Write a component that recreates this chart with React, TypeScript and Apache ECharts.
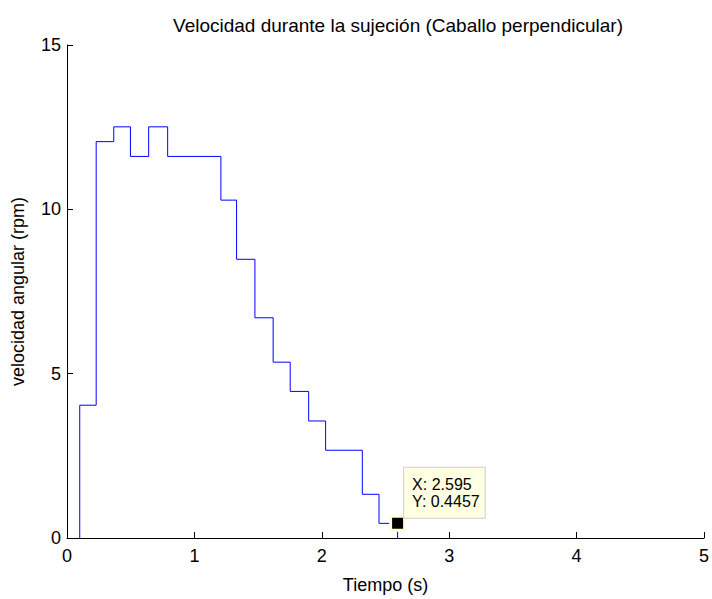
import React, { useEffect, useRef } from "react";
import * as echarts from "echarts";

// step data: [time change (s), new value (rpm)]
const stepTimes = [0.1, 0.1, 0.229, 0.367, 0.498, 0.641, 0.79, 1.208, 1.331, 1.475, 1.618, 1.752, 1.897, 2.03, 2.318, 2.449, 2.595];
const stepValues = [0, 4.04, 12.06, 12.51, 11.61, 12.51, 11.61, 10.28, 8.48, 6.7, 5.35, 4.46, 3.56, 2.67, 1.33, 0.4457, 0];
const cursorPoint = [2.595, 0.4457];
const xTicks = [0, 1, 2, 3, 4, 5];
const yTicks = [0, 5, 10, 15];

const FONT = "Liberation Sans, Arial, sans-serif";

export default function App() {
  const ref = useRef<HTMLDivElement>(null);
  useEffect(() => {
    if (!ref.current) return;
    const chart = echarts.init(ref.current, null, { renderer: "svg" });
    const lineData = stepTimes.map((t, i) => [t, stepValues[i]]);
    chart.setOption({
      animation: false,
      backgroundColor: "#ffffff",
      title: {
        text: "Velocidad durante la sujeción (Caballo perpendicular)",
        left: 393,
        textAlign: "center",
        top: 11,
        textStyle: { fontFamily: FONT, fontSize: 19, fontWeight: "normal", color: "#000" },
      },
      grid: { left: 67, right: 7, top: 45, bottom: 53, containLabel: false },
      xAxis: {
        type: "value",
        min: xTicks[0],
        max: xTicks[xTicks.length - 1],
        interval: 1,
        name: "Tiempo (s)",
        nameLocation: "middle",
        nameGap: 38,
        nameTextStyle: { fontFamily: FONT, fontSize: 18, color: "#000" },
        axisLine: { lineStyle: { color: "#000", width: 1 } },
        axisTick: { inside: true, length: 6, lineStyle: { color: "#000" } },
        axisLabel: { fontFamily: FONT, fontSize: 18, color: "#000", margin: 9 },
        splitLine: { show: false },
      },
      yAxis: {
        type: "value",
        min: yTicks[0],
        max: yTicks[yTicks.length - 1],
        interval: 5,
        name: "velocidad angular (rpm)",
        nameLocation: "middle",
        nameGap: 40,
        nameTextStyle: { fontFamily: FONT, fontSize: 18, color: "#000" },
        axisLine: { show: true, lineStyle: { color: "#000", width: 1 } },
        axisTick: { show: true, inside: true, length: 6, lineStyle: { color: "#000" } },
        axisLabel: { fontFamily: FONT, fontSize: 18, color: "#000", margin: 6 },
        splitLine: { show: false },
      },
      series: [
        {
          type: "line",
          data: lineData,
          step: "end",
          showSymbol: false,
          symbol: "none",
          lineStyle: { color: "#0000ff", width: 1 },
          z: 2,
        },
        {
          type: "scatter",
          data: [cursorPoint],
          symbol: "rect",
          symbolSize: 14,
          itemStyle: { color: "#000", borderColor: "#ffffd8", borderWidth: 3, opacity: 1 },
          z: 5,
          label: {
            show: true,
            position: [15, -47],
            formatter: () => `X: ${cursorPoint[0]}\nY: ${cursorPoint[1]}`,
            fontFamily: FONT,
            fontSize: 16,
            lineHeight: 17,
            color: "#000",
            backgroundColor: "#ffffe1",
            borderColor: "#d0d0d0",
            borderWidth: 1,
            padding: [8, 5, 8, 8],
            align: "left",
            verticalAlign: "top",
          },
        },
      ],
    });
    return () => chart.dispose();
  }, []);
  return <div ref={ref} style={{ width: 712, height: 599, position: "absolute", left: 0, top: 0 }} />;
}
